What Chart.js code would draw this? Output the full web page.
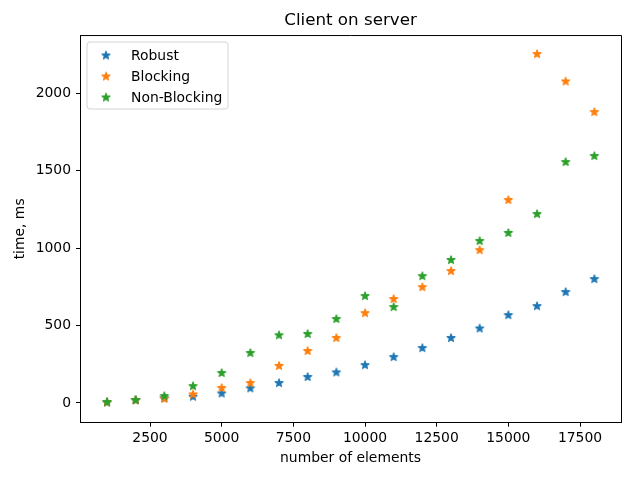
<!DOCTYPE html>
<html>
<head>
<meta charset="utf-8">
<script src="https://cdn.jsdelivr.net/npm/chart.js@4/dist/chart.umd.min.js"></script>
<style>
  html, body { margin: 0; padding: 0; background: #fff; }
  #c { display: block; }
</style>
</head>
<body>
<canvas id="c" width="640" height="480"></canvas>
<script>
// ---- data ----
const elements = [1000, 2000, 3000, 4000, 5000, 6000, 7000, 8000, 9000, 10000, 11000, 12000, 13000, 14000, 15000, 16000, 17000, 18000];
const robust = [3, 18, 30, 40, 61, 94, 128, 167, 197, 244, 296, 354, 419, 481, 567, 625, 716, 800];
const blocking = [3, 17, 27, 55, 96, 128, 239, 335, 419, 580, 671, 748, 852, 987, 1311, 2254, 2077, 1879];
const nonBlocking = [5, 18, 44, 108, 193, 322, 437, 445, 542, 690, 619, 819, 923, 1046, 1098, 1220, 1556, 1595];
const seriesNames = ['Robust', 'Blocking', 'Non-Blocking'];
const xTickValues = [2500, 5000, 7500, 10000, 12500, 15000, 17500];
const yTickValues = [0, 500, 1000, 1500, 2000];
const titleText = 'Client on server';
const xTitle = 'number of elements';
const yTitle = 'time, ms';

const colors = ['#1f77b4', '#ff7f0e', '#2ca02c'];
const FONT = "'DejaVu Sans', sans-serif";

function makeStar(color) {
  const size = 16;
  const c = document.createElement('canvas');
  c.width = size; c.height = size;
  const g = c.getContext('2d');
  g.translate(size / 2, size / 2);
  const ro = 4.1, ri = ro * 0.381966;
  g.beginPath();
  for (let i = 0; i < 10; i++) {
    const r = i % 2 ? ri : ro;
    const a = -Math.PI / 2 + i * Math.PI / 5;
    const px = r * Math.cos(a), py = r * Math.sin(a);
    if (i === 0) g.moveTo(px, py); else g.lineTo(px, py);
  }
  g.closePath();
  g.fillStyle = color;
  g.strokeStyle = color;
  g.lineWidth = 1.3;
  g.lineJoin = 'round';
  g.fill();
  g.stroke();
  return c;
}
const stars = colors.map(makeStar);

function pts(ys) { return elements.map((x, i) => ({ x: x, y: ys[i] })); }
const allSeries = [robust, blocking, nonBlocking];

const frame = {
  id: 'frame',
  afterDraw(chart) {
    const { ctx, chartArea: a } = chart;
    ctx.save();
    ctx.strokeStyle = '#000';
    ctx.lineWidth = 1;
    ctx.beginPath();
    ctx.moveTo(a.left, a.top + 0.5);
    ctx.lineTo(a.right + 0.5, a.top + 0.5);
    ctx.lineTo(a.right + 0.5, a.bottom);
    ctx.stroke();
    // legend
    const lx = 87, ly = 42, lw = 141, lh = 67, r = 3;
    ctx.beginPath();
    ctx.moveTo(lx + r, ly);
    ctx.arcTo(lx + lw, ly, lx + lw, ly + lh, r);
    ctx.arcTo(lx + lw, ly + lh, lx, ly + lh, r);
    ctx.arcTo(lx, ly + lh, lx, ly, r);
    ctx.arcTo(lx, ly, lx + lw, ly, r);
    ctx.closePath();
    ctx.fillStyle = 'rgba(255,255,255,0.8)';
    ctx.fill();
    ctx.strokeStyle = '#d4d4d4';
    ctx.lineWidth = 1;
    ctx.stroke();
    ctx.font = '13.9px ' + FONT;
    ctx.textBaseline = 'middle';
    ctx.textAlign = 'left';
    ctx.fillStyle = '#000';
    chart.data.datasets.forEach((ds, i) => {
      const cy = 55.5 + i * 21;
      ctx.drawImage(stars[i], 106 - 8, cy - 8);
      ctx.fillText(ds.label, 131, cy + 0.5);
    });
    ctx.restore();
  }
};

new Chart(document.getElementById('c'), {
  type: 'scatter',
  data: {
    datasets: seriesNames.map((name, i) => ({
      label: name,
      data: pts(allSeries[i]),
      pointStyle: stars[i],
      backgroundColor: colors[i],
      borderColor: colors[i],
      order: 3 - i,
      showLine: false
    }))
  },
  options: {
    responsive: false,
    animation: false,
    devicePixelRatio: 1,
    layout: { padding: { left: 0, right: 19, top: 0, bottom: 0 } },
    plugins: {
      legend: { display: false },
      tooltip: { enabled: false },
      title: {
        display: true,
        text: titleText,
        fullSize: false,
        color: '#000',
        font: { family: FONT, size: 16.7, weight: 'normal' },
        padding: { top: 11, bottom: 4 }
      }
    },
    scales: {
      x: {
        type: 'linear',
        min: 58,
        max: 18930,
        afterFit(s) { s.height = 57.3; },
        afterBuildTicks(s) { s.ticks = xTickValues.map(v => ({ value: v })); },
        ticks: {
          color: '#000',
          font: { family: FONT, size: 13.9 },
          padding: 3,
          maxRotation: 0,
          autoSkip: false,
          callback: v => String(v)
        },
        grid: { display: true, drawOnChartArea: false, drawTicks: true, tickLength: 4, tickColor: '#000', tickWidth: 1 },
        border: { display: true, color: '#000', width: 1 },
        title: {
          display: true,
          text: xTitle,
          color: '#000',
          font: { family: FONT, size: 13.9 },
          padding: { top: 0, bottom: 13 }
        }
      },
      y: {
        type: 'linear',
        min: -128,
        max: 2377,
        afterFit(s) { s.width = 80; },
        afterBuildTicks(s) { s.ticks = yTickValues.map(v => ({ value: v })); },
        ticks: {
          color: '#000',
          font: { family: FONT, size: 13.9 },
          padding: 5,
          autoSkip: false,
          callback: v => String(v)
        },
        grid: { display: true, drawOnChartArea: false, drawTicks: true, tickLength: 4, tickColor: '#000', tickWidth: 1 },
        border: { display: true, color: '#000', width: 1 },
        title: {
          display: true,
          text: yTitle,
          color: '#000',
          font: { family: FONT, size: 13.9 },
          padding: { top: 12, bottom: 0 }
        }
      }
    }
  },
  plugins: [frame]
});
</script>
</body>
</html>
